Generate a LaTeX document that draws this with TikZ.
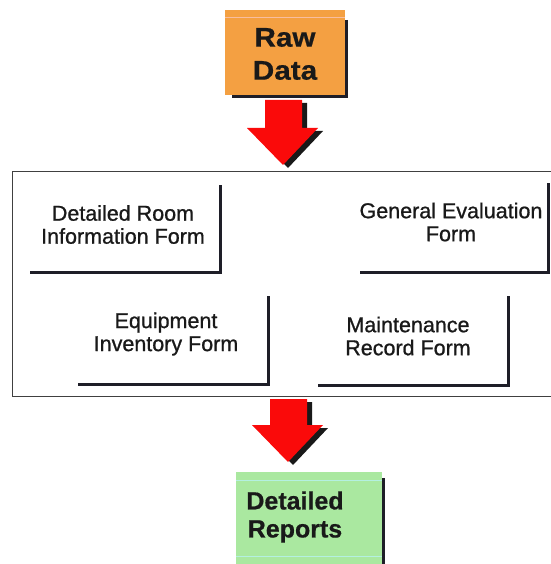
\documentclass[tikz,border=0pt]{standalone}
\usepackage{fontspec}
\setmainfont{Liberation Sans}
\newfontfamily\headfont[FakeStretch=1.1,FakeBold=0.6]{Liberation Sans}
\newfontfamily\repfont[FakeBold=0.6]{Liberation Sans}
\newfontfamily\formfont[FakeBold=0.9]{Liberation Sans}
\usetikzlibrary{calc}
\definecolor{rawfill}{RGB}{244,160,66}
\definecolor{rawline}{RGB}{248,190,160}
\definecolor{repfill}{RGB}{170,232,160}
\definecolor{repline}{RGB}{180,240,225}
\definecolor{shadowc}{RGB}{30,30,40}
\definecolor{arrowred}{RGB}{250,10,10}
\tikzset{
  headbox/.style={draw=none, inner sep=0pt},
  headtext/.style={align=center, inner sep=0pt, text=black!90},
  formbox/.style={draw=none, inner sep=0pt},
  formtext/.style={align=center, inner sep=0pt, text=black!90, font=\formfont\fontsize{21.5}{23}\selectfont},
  shadowline/.style={draw=shadowc, line width=3pt, line cap=rect},
  boxshadow/.style={draw=shadowc, line width=3pt},
  framebox/.style={draw=black!75, line width=1.1pt, inner sep=0pt},
  bigarrow/.style={fill=arrowred, draw=none},
  bigarrowshadow/.style={fill=black!90, draw=none}
}
\begin{document}
\begin{tikzpicture}[x=1pt,y=-1pt]
\useasboundingbox (0,0) rectangle (550,564);

% Raw Data box
\node[headbox, fill=rawfill, minimum width=120, minimum height=85] (raw) at (285,52.5) {};
\draw[rawline, line width=1pt] ($(raw.north west)+(0,8)$) -- ($(raw.north east)+(0,8)$);
\draw[boxshadow] ($(raw.north east)+(1.5,10)$) -- ($(raw.south east)+(1.5,1.5)$) -- ($(raw.south west)+(7,1.5)$);
\node[headtext, font=\headfont\bfseries\fontsize{27}{33}\selectfont] (rawt) at (285,54) {Raw\\Data};

% Arrow 1
\coordinate (a1) at (283,100);
\draw[bigarrowshadow] ($(a1)+(-18+5,3)$) -- ++(37,0) -- ++(0,28) -- ++(16,0) -- ++(-35,37) -- ++(-36,-37) -- ++(18,0) -- cycle;
\draw[bigarrow] ($(a1)+(-18,0)$) -- ++(37,0) -- ++(0,28) -- ++(16,0) -- ++(-35,37) -- ++(-36,-37) -- ++(18,0) -- cycle;

% Frame
\node[framebox, minimum width=545, minimum height=225, anchor=north west] (frame) at (12,171) {};

% Form 1
\node[formbox, minimum width=188, minimum height=85] (f1) at (126,229.5) {};
\node[formtext] (t1) at (123,224.5) {Detailed Room\\Information Form};
\draw[shadowline] (f1.north east) -- (f1.south east) -- (f1.south west);

% Form 2
\node[formbox, minimum width=186, minimum height=87] (f2) at (455,228.5) {};
\node[formtext] (t2) at (451,222) {General Evaluation\\Form};
\draw[shadowline] (f2.north east) -- (f2.south east) -- (f2.south west);

% Form 3
\node[formbox, minimum width=188, minimum height=86] (f3) at (174,341) {};
\node[formtext] (t3) at (166,334) {Equipment\\Inventory Form};
\draw[shadowline] (f3.north east) -- (f3.south east) -- (f3.south west);

% Form 4
\node[formbox, minimum width=188, minimum height=87] (f4) at (414,341.5) {};
\node[formtext] (t4) at (408,336) {Maintenance\\Record Form};
\draw[shadowline] (f4.north east) -- (f4.south east) -- (f4.south west);

% Arrow 2
\coordinate (a2) at (288,399);
\draw[bigarrowshadow] ($(a2)+(-18+5,3)$) -- ++(37,0) -- ++(0,26) -- ++(16,0) -- ++(-35,37) -- ++(-36,-37) -- ++(18,0) -- cycle;
\draw[bigarrow] ($(a2)+(-18,0)$) -- ++(37,0) -- ++(0,26) -- ++(16,0) -- ++(-35,37) -- ++(-36,-37) -- ++(18,0) -- cycle;

% Detailed Reports box
\node[headbox, fill=repfill, minimum width=146, minimum height=92, anchor=north west] (rep) at (236,472) {};
\draw[repline, line width=1pt] ($(rep.north west)+(0,8)$) -- ($(rep.north east)+(0,8)$);
\draw[repline, line width=1pt] ($(rep.south west)+(0,-8)$) -- ($(rep.south east)+(0,-8)$);
\draw[boxshadow] ($(rep.north east)+(1.5,6)$) -- ($(rep.south east)+(1.5,0)$);
\node[headtext, font=\repfont\bfseries\fontsize{25}{28}\selectfont] (rept) at (295,517) {Detailed\\Reports};
\end{tikzpicture}
\end{document}
